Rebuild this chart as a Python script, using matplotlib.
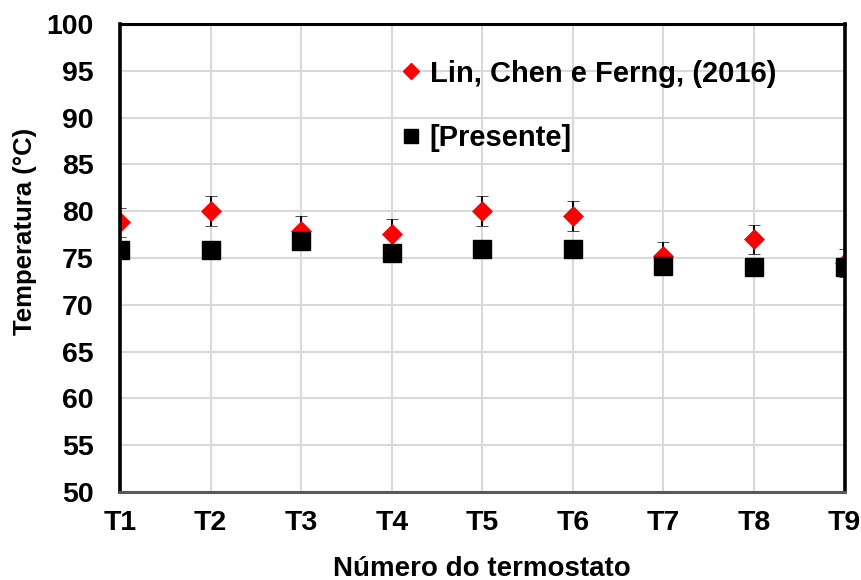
import matplotlib.pyplot as plt
import matplotlib as mpl
from matplotlib.lines import Line2D

mpl.rcParams['font.family'] = 'Liberation Sans'
mpl.rcParams['font.weight'] = 'bold'
mpl.rcParams['axes.labelweight'] = 'bold'

# thermostat positions and measured temperatures
termostatos = ['T1', 'T2', 'T3', 'T4', 'T5', 'T6', 'T7', 'T8', 'T9']
lin_chen = [78.8, 80.0, 77.9, 77.6, 80.0, 79.5, 75.2, 77.0, 74.5]
lin_chen_err = [1.55, 1.6, 1.55, 1.55, 1.6, 1.6, 1.5, 1.55, 1.5]
presente = [75.9, 75.9, 76.8, 75.5, 76.0, 76.0, 74.1, 74.0, 74.0]

fig = plt.figure(figsize=(8.61, 5.8), dpi=100)
ax = fig.add_axes([0.1394, 0.1517, 0.8415, 0.8069])

x = list(range(len(termostatos)))

ax.errorbar(x, lin_chen, yerr=lin_chen_err, fmt='D', color='#ff0000', markersize=10.5,
            markeredgecolor='#ff0000', markeredgewidth=0.5,
            ecolor='black', elinewidth=1.5, capsize=4.5, capthick=1.5, zorder=3)
ax.plot(x, presente, 's', color='black', markersize=13.5, zorder=4)

ax.set_xlim(0, 8)
ax.set_ylim(50, 100)
ax.set_xticks(x)
ax.set_xticklabels(termostatos)
ax.set_yticks(range(50, 101, 5))
ax.tick_params(axis='both', length=0, labelsize=20.5)
ax.tick_params(axis='y', pad=19)
ax.tick_params(axis='x', pad=13)

ax.grid(True, color='#d9d9d9', linewidth=1.5, zorder=0)
ax.set_axisbelow(True)

for side in ['left', 'right']:
    ax.spines[side].set_linewidth(2.6)
    ax.spines[side].set_color('black')
ax.spines['top'].set_linewidth(2.2)
ax.spines['bottom'].set_linewidth(2.2)
ax.spines['bottom'].set_color('#595959')
for sp in ax.spines.values():
    sp.set_zorder(5)
    sp.set_clip_on(False)

ax.set_ylabel('Temperatura (°C)', fontsize=18.5)
ax.yaxis.set_label_coords(-0.114, 0.556)
ax.set_xlabel('Número do termostato', fontsize=20, labelpad=14)

# legend entries drawn from plain marker handles
handles = [Line2D([], [], marker='D', linestyle='none', color='#ff0000', markersize=8),
           Line2D([], [], marker='s', linestyle='none', color='black', markersize=10)]
ax.legend(handles, ['Lin, Chen e Ferng, (2016)', '[Presente]'],
          loc='upper left', bbox_to_anchor=(0.353, 0.98), frameon=False,
          fontsize=21, labelspacing=1.25, handlelength=0.6, handletextpad=0.35)

fig.savefig('out.png', dpi=100)
